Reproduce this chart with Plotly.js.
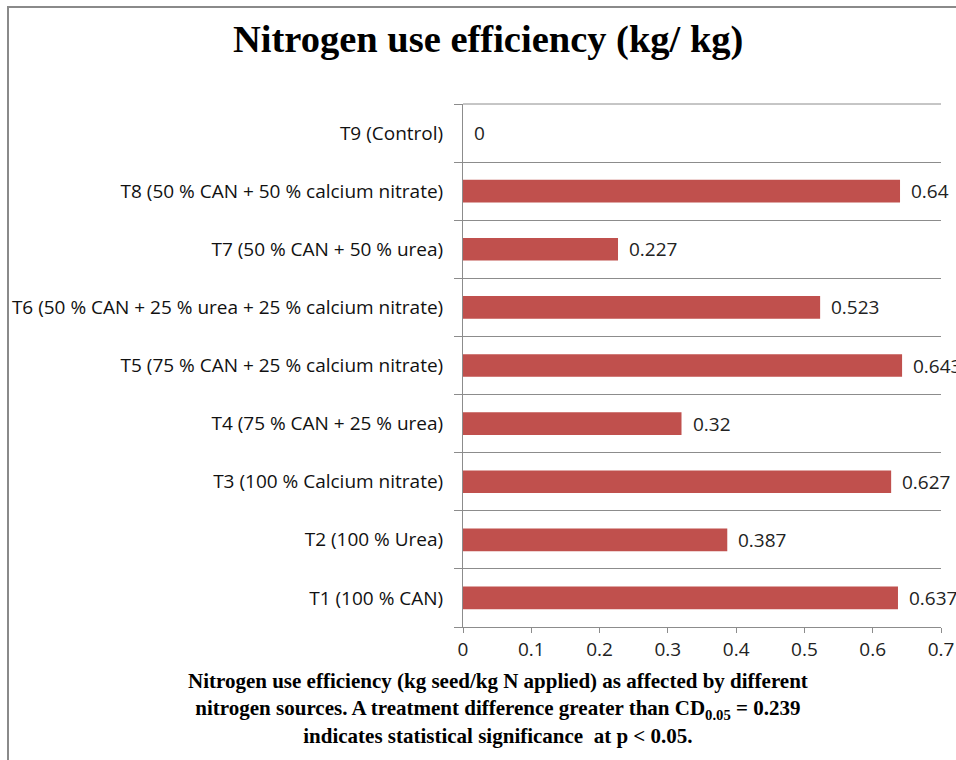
<!DOCTYPE html>
<html>
<head>
<meta charset="utf-8">
<script src="https://cdn.plot.ly/plotly-3.0.1.min.js"></script>
<style>html,body{margin:0;padding:0;background:#fff;}#chart{width:956px;height:760px;}</style>
</head>
<body>
<div id="chart"></div>
<script>
const categories = [
  'T1 (100 % CAN)',
  'T2 (100 % Urea)',
  'T3 (100 % Calcium nitrate)',
  'T4 (75 % CAN + 25 % urea)',
  'T5 (75 % CAN + 25 % calcium nitrate)',
  'T6 (50 % CAN + 25 % urea + 25 % calcium nitrate)',
  'T7 (50 % CAN + 50 % urea)',
  'T8 (50 % CAN + 50 % calcium nitrate)',
  'T9 (Control)'
];
const values = [0.637, 0.387, 0.627, 0.32, 0.643, 0.523, 0.227, 0.64, 0];
const valueLabels = ['0.637', '0.387', '0.627', '0.32', '0.643', '0.523', '0.227', '0.64', '0'];
const xTicks = [0, 0.1, 0.2, 0.3, 0.4, 0.5, 0.6, 0.7];
const xTickLabels = ['0', '0.1', '0.2', '0.3', '0.4', '0.5', '0.6', '0.7'];
const chartTitle = 'Nitrogen use efficiency (kg/ kg)';
const captionLines = [
  'Nitrogen use efficiency (kg seed/kg N applied) as affected by different',
  'nitrogen sources. A treatment difference greater than CD<sub>0.05</sub> = 0.239',
  'indicates statistical significance  at p &lt; 0.05.'
];

const W = 956, H = 760;
const L = 463, R = 941, T = 104, B = 627;
const px = v => (v - L) / (R - L);
const py = v => (B - v) / (B - T);

const sansFont = 'Open Sans, Liberation Sans, sans-serif';
const serifFont = 'Liberation Serif, Times New Roman, serif';

const annotations = values.map((v, i) => ({
  x: v, y: categories[i], xref: 'x', yref: 'y',
  text: valueLabels[i], showarrow: false, xanchor: 'left', yanchor: 'middle',
  xshift: 9, font: {family: sansFont, size: 19, color: '#222'}
}));
annotations.push({
  xref: 'paper', yref: 'paper', x: px(488), y: py(40), xanchor: 'center', yanchor: 'middle',
  text: '<b>' + chartTitle + '</b>', showarrow: false,
  font: {family: serifFont, size: 38.5, color: '#000'}
});
annotations.push({
  xref: 'paper', yref: 'paper', x: px(497.5), y: py(708), xanchor: 'center', yanchor: 'middle',
  text: '<b>' + captionLines.join('<br>') + '</b>', showarrow: false, align: 'center',
  font: {family: serifFont, size: 21, color: '#000'}
});

const data = [{
  type: 'bar', orientation: 'h', x: values, y: categories,
  marker: {color: '#C0504D'}, hoverinfo: 'x+y'
}];

const layout = {
  width: W, height: H,
  margin: {l: L, r: W - R, t: T, b: H - B, pad: 0},
  paper_bgcolor: '#fff', plot_bgcolor: '#fff',
  showlegend: false,
  bargap: 0.61,
  xaxis: {
    range: [0, 0.7], tickvals: xTicks, ticktext: xTickLabels,
    showgrid: false, zeroline: false,
    showline: true, linecolor: '#8c8c8c', linewidth: 1,
    ticks: 'outside', ticklen: 5, tickcolor: '#8c8c8c',
    ticklabelstandoff: 0,
    tickfont: {family: sansFont, size: 19, color: '#222'},
    fixedrange: true
  },
  yaxis: {
    type: 'category', categoryorder: 'array', categoryarray: categories,
    tickson: 'boundaries', ticks: 'outside', ticklen: 8, tickcolor: '#8c8c8c',
    showgrid: true, gridcolor: '#8c8c8c', gridwidth: 1,
    showline: true, linecolor: '#8c8c8c', linewidth: 1,
    ticklabelstandoff: 15,
    tickfont: {family: sansFont, size: 19, color: '#111'},
    fixedrange: true
  },
  annotations: annotations,
  shapes: [
    {type: 'line', xref: 'paper', yref: 'paper', x0: px(8), x1: px(8), y0: py(7), y1: py(762), line: {color: '#8a8a8a', width: 2}},
    {type: 'line', xref: 'paper', yref: 'paper', x0: px(7), x1: px(960), y0: py(7), y1: py(7), line: {color: '#8a8a8a', width: 2}},
    {type: 'line', xref: 'paper', yref: 'paper', x0: 0, x1: 1, y0: 1, y1: 1, line: {color: '#8c8c8c', width: 1}}
  ]
};

Plotly.newPlot('chart', data, layout, {displayModeBar: false, staticPlot: true});
</script>
</body>
</html>
